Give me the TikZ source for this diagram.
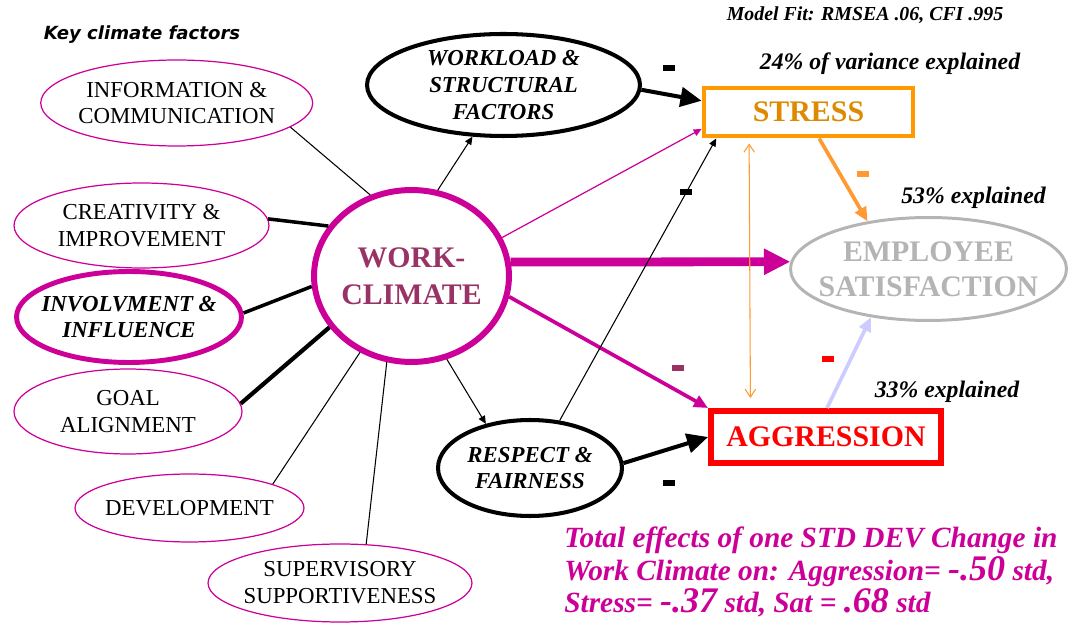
\documentclass[tikz,border=0pt]{standalone}
\usepackage{fontspec}
\setmainfont{Liberation Serif}
\newfontfamily\keyfont{DejaVu Sans}
\usepackage{tikz}
\usetikzlibrary{arrows.meta,shapes.geometric}
\definecolor{M}{RGB}{204, 0, 153}
\definecolor{P}{RGB}{153, 51, 102}
\definecolor{O}{RGB}{255, 153, 0}
\definecolor{OD}{RGB}{222, 138, 0}
\definecolor{OL}{RGB}{255, 153, 51}
\definecolor{Gr}{RGB}{180, 180, 180}
\definecolor{L}{RGB}{204, 204, 255}
\definecolor{R}{RGB}{255, 0, 0}

\begin{document}
\begin{tikzpicture}[x=0.02cm, y=-0.02cm,
	factor/.style={ellipse, draw=M, line width=0.7pt, inner sep=-6mm, align=center, font=\fontsize{13}{15.3}\selectfont},
	mediator/.style={ellipse, draw, line width=2.3pt, inner sep=-6mm, align=center, font=\fontsize{13}{15.3}\selectfont\bfseries\itshape},
	outcome/.style={inner sep=0pt, align=center, font=\fontsize{17}{20}\selectfont\bfseries},
	signmark/.style={rectangle, fill, inner sep=0pt, minimum width=0.24cm, minimum height=0.12cm},
	note/.style={inner sep=0pt, font=\fontsize{13.5}{16}\selectfont\bfseries\itshape},
	thinlink/.style={line width=0.6pt},
	thicklink/.style={line width=2pt},
	thinarrow/.style={line width=0.6pt, -{Triangle[length=4.5pt,width=4pt]}},
	midarrow/.style={line width=2.1pt, -{Triangle[length=8pt,width=7pt]}},
	boldarrow/.style={line width=2.3pt, -{Triangle[length=12pt,width=11pt]}},
	bigarrow/.style={M, line width=5pt, -{Triangle[length=15pt,width=14pt]}}]

	\useasboundingbox (0,0) rectangle (1075,624);

	%Titulos
	\node[font=\keyfont\fontsize{10.3}{12}\selectfont\bfseries\itshape] (key) at (142,35) {Key climate factors};
	\node[note, font=\fontsize{11.3}{13}\selectfont\bfseries\itshape] (fit) at (865,15) {Model Fit: RMSEA .06, CFI .995};

	%Factores del clima (izquierda)
	\node[factor, minimum width=5.44cm, minimum height=1.72cm] (info) at (176.7,103) {INFORMATION \&\\COMMUNICATION};
	\node[factor, minimum width=5.10cm, minimum height=1.70cm] (creat) at (141.5,225.5) {CREATIVITY \&\\IMPROVEMENT};
	\node[factor, line width=2.8pt, font=\fontsize{13}{15.3}\selectfont\bfseries\itshape, minimum width=4.50cm, minimum height=1.82cm] (invol) at (129,317) {INVOLVMENT \&\\INFLUENCE};
	\node[factor, minimum width=4.56cm, minimum height=1.70cm] (goal) at (128,411.5) {GOAL\\ALIGNMENT};
	\node[factor, minimum width=4.58cm, minimum height=1.36cm] (devel) at (189.5,508) {DEVELOPMENT};
	\node[factor, minimum width=5.28cm, minimum height=1.56cm] (superv) at (340,583) {SUPERVISORY\\SUPPORTIVENESS};

	%Clima laboral
	\node[ellipse, draw=M, line width=3.4pt, inner sep=-6mm, text=P, align=center, font=\fontsize{17}{21}\selectfont\bfseries, minimum width=3.90cm, minimum height=3.44cm] (wc) at (411.5,276) {WORK-\\CLIMATE};

	%Mediadores
	\node[mediator, minimum width=5.46cm, minimum height=2.04cm] (work) at (503.5,85) {WORKLOAD \&\\STRUCTURAL\\FACTORS};
	\node[mediator, minimum width=3.68cm, minimum height=1.92cm] (resp) at (530,468) {RESPECT \&\\FAIRNESS};

	%Resultados
	\node[outcome, draw=O, line width=2.8pt, text=OD, minimum width=4.18cm, minimum height=0.96cm] (stress) at (808.5,112) {STRESS};
	\node[outcome, draw=R, line width=3.4pt, text=R, minimum width=4.60cm, minimum height=1.04cm] (aggr) at (826,437) {AGGRESSION};
	\node[outcome, ellipse, draw=Gr, line width=1.7pt, text=Gr, inner sep=-6mm, font=\fontsize{17}{19.8}\selectfont\bfseries, minimum width=5.52cm, minimum height=2.06cm] (emp) at (928.5,269) {EMPLOYEE\\SATISFACTION};

	\node[note] (v24) at (890,64) {24\% of variance explained};
	\node[note] (v53) at (973.5,198) {53\% explained};
	\node[note] (v33) at (947,392) {33\% explained};

	%Lineas de los factores al clima
	\draw[thinlink] (info.-12.7) -- (wc.117.6);
	\draw[thicklink] (creat.3.8) -- (wc.149);
	\draw[thicklink] (invol.2) -- (wc.186.4);
	\draw[thicklink, line width=2.4pt] (goal.4.7) -- (wc.212);
	\draw[thinlink] (devel.16.2) -- (wc.236.9);
	\draw[thinlink] (superv.56) -- (wc.254.4);

	%Flechas del modelo
	\draw[thinarrow] (wc.73.3) -- (work.239.3);
	\draw[thinarrow] (wc.-67.8) -- (resp.135.7);
	\draw[thinarrow, M, line width=0.7pt] (wc.23) -- (stress.189.6);
	\draw[bigarrow] (wc.8.8) -- (emp.177.1);
	\draw[midarrow, M] (wc.-12.3) -- (aggr.north west);
	\draw[thinarrow] (resp.58) -- (stress.196.6);
	\draw[boldarrow] (work.-2) -- (stress.174.6);
	\draw[boldarrow] (resp.3) -- (aggr.west);
	\draw[midarrow, OL] (stress.-68.4) -- (emp.142.3);
	\draw[midarrow, L] (aggr.88) -- (emp.220);
	\draw[OL, line width=0.6pt, {Straight Barb[length=4.5pt,width=6pt]}-{Straight Barb[length=4.5pt,width=6pt]}, shorten <=0.1cm, shorten >=0.2cm] (stress.204.2) -- (aggr.159.9);

	%Signos
	\node[signmark] (s1) at (669,68) {};
	\node[signmark] (s2) at (686,192) {};
	\node[signmark, fill=OL] (s3) at (863,174) {};
	\node[signmark, fill=P] (s4) at (678,368) {};
	\node[signmark, fill=R] (s5) at (828,359) {};
	\node[signmark] (s6) at (669,483) {};

	%Efectos totales
	\node[anchor=west, inner sep=0pt, align=left, text=M, font=\fontsize{16.7}{18.5}\selectfont\bfseries\itshape] (total) at (564,572) {Total effects of one STD DEV Change in\\Work Climate on: Aggression= {\fontsize{20.5}{18.5}\selectfont -.50} std,\\Stress= {\fontsize{20.5}{18.5}\selectfont -.37} std, Sat = {\fontsize{20.5}{18.5}\selectfont .68} std};
\end{tikzpicture}
\end{document}
